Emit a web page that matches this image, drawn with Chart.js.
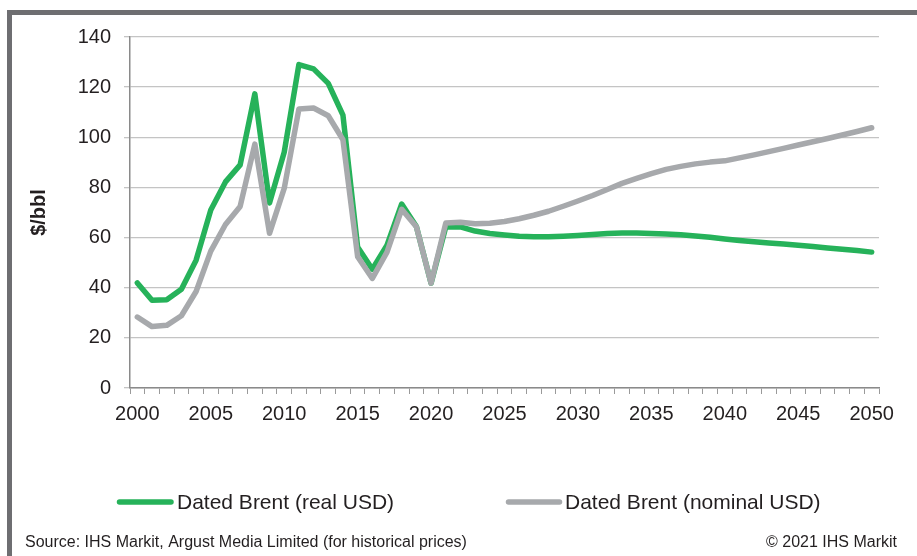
<!DOCTYPE html>
<html>
<head>
<meta charset="utf-8">
<script src="https://cdn.jsdelivr.net/npm/chart.js@4.4.0/dist/chart.umd.min.js"></script>
<style>
    html, body { margin: 0; padding: 0; background: #fff; }
    #wrap { position: relative; width: 917px; height: 556px; }
</style>
</head>
<body>
<div id="wrap"><canvas id="brentChart"></canvas></div>
<script>
// Datos
const years = [
    '2000','2001','2002','2003','2004','2005','2006','2007','2008','2009',
    '2010','2011','2012','2013','2014','2015','2016','2017','2018','2019',
    '2020','2021','2022','2023','2024','2025','2026','2027','2028','2029',
    '2030','2031','2032','2033','2034','2035','2036','2037','2038','2039',
    '2040','2041','2042','2043','2044','2045','2046','2047','2048','2049',
    '2050'
];

const brentReal = [
    41.9, 35.0, 35.2, 39.4, 51.0, 71.0, 82.2, 89.0, 117.3, 73.8,
    94.0, 129.0, 127.3, 121.5, 108.8, 56.2, 47.4, 57.0, 73.4, 64.4,
    41.8, 64.2, 64.3, 62.6, 61.6, 61.0, 60.5, 60.3, 60.3, 60.5,
    60.8, 61.2, 61.6, 61.8, 61.8, 61.6, 61.4, 61.1, 60.6, 60.1,
    59.4, 58.8, 58.3, 57.8, 57.4, 56.9, 56.4, 55.8, 55.3, 54.8,
    54.2
];

const brentNominal = [
    28.3, 24.5, 25.0, 28.8, 38.5, 54.6, 65.2, 72.4, 97.3, 61.7,
    79.6, 111.3, 111.7, 108.6, 99.0, 52.4, 43.7, 54.2, 71.3, 64.3,
    41.8, 65.8, 66.1, 65.5, 65.7, 66.4, 67.5, 68.9, 70.5, 72.5,
    74.6, 76.8, 79.2, 81.6, 83.6, 85.5, 87.2, 88.4, 89.4, 90.1,
    90.6, 91.8, 93.0, 94.3, 95.6, 96.9, 98.2, 99.5, 100.9, 102.3,
    103.8
];

const seriesLabels = ['Dated Brent (real USD)', 'Dated Brent (nominal USD)'];
const yTitle = '$/bbl';
const sourceText = 'Source: IHS Markit, Argust Media Limited (for historical prices)';
const copyrightText = '\u00A9 2021 IHS Markit';

const GREEN = '#26b25a';
const GREY = '#a7a9ac';
const FONT = '"Liberation Sans", Arial, sans-serif';
const TEXT = '#231f20';

// Marco, leyenda y fuente
const decorPlugin = {
    id: 'decor',
    beforeDraw(chart) {
        const ctx = chart.ctx;
        ctx.save();
        ctx.fillStyle = '#6e6e71';
        ctx.fillRect(7, 10, 910, 5);
        ctx.fillRect(7, 10, 5, 546);
        ctx.restore();
    },
    afterDraw(chart) {
        const ctx = chart.ctx;
        const items = [
            { x0: 119.5, x1: 171, tx: 177 },
            { x0: 508.5, x1: 559.5, tx: 565 }
        ];
        ctx.save();
        chart.data.datasets.forEach((ds, i) => {
            const it = items[i];
            ctx.strokeStyle = ds.borderColor;
            ctx.lineWidth = 5.5;
            ctx.lineCap = 'round';
            ctx.beginPath();
            ctx.moveTo(it.x0, 502);
            ctx.lineTo(it.x1, 502);
            ctx.stroke();
            ctx.fillStyle = TEXT;
            ctx.font = '21px ' + FONT;
            ctx.textBaseline = 'alphabetic';
            ctx.textAlign = 'left';
            ctx.fillText(ds.label, it.tx, 508.5);
        });
        ctx.font = '16px ' + FONT;
        ctx.textAlign = 'left';
        ctx.fillText(sourceText, 25, 547);
        ctx.textAlign = 'right';
        ctx.fillText(copyrightText, 897, 547);
        ctx.restore();
    }
};

const ctx = document.getElementById('brentChart');
new Chart(ctx, {
    type: 'line',
    data: {
        labels: years,
        datasets: [
            {
                label: seriesLabels[0],
                data: brentReal,
                borderColor: GREEN,
                backgroundColor: GREEN,
                borderWidth: 5.5,
                borderJoinStyle: 'round',
                borderCapStyle: 'round',
                pointRadius: 0,
                tension: 0,
                order: 2
            },
            {
                label: seriesLabels[1],
                data: brentNominal,
                borderColor: GREY,
                backgroundColor: GREY,
                borderWidth: 5.5,
                borderJoinStyle: 'round',
                borderCapStyle: 'round',
                pointRadius: 0,
                tension: 0,
                order: 1
            }
        ]
    },
    options: {
        responsive: true,
        maintainAspectRatio: false,
        animation: false,
        layout: {
            padding: { top: 37, right: 38, bottom: 128, left: 0 }
        },
        plugins: {
            legend: { display: false },
            tooltip: { enabled: false }
        },
        scales: {
            x: {
                type: 'category',
                offset: true,
                afterFit(scale) { scale.height = 40; },
                grid: {
                    offset: true,
                    drawOnChartArea: false,
                    drawTicks: true,
                    tickLength: 6,
                    tickColor: '#9a9a9a',
                    lineWidth: 1
                },
                border: { color: '#8a8a8a', width: 1.5 },
                ticks: {
                    autoSkip: false,
                    maxRotation: 0,
                    minRotation: 0,
                    padding: 8,
                    color: TEXT,
                    font: { family: FONT, size: 20 },
                    callback(value) {
                        const y = Number(this.getLabelForValue(value));
                        return y % 5 === 0 ? String(y) : '';
                    }
                }
            },
            y: {
                min: 0,
                max: 140,
                afterFit(scale) { scale.width = 130; },
                grid: {
                    color: '#c4c4c4',
                    lineWidth: 1.3,
                    tickLength: 6,
                    tickColor: '#c4c4c4'
                },
                border: { color: '#8a8a8a', width: 1.5 },
                ticks: {
                    stepSize: 20,
                    padding: 13,
                    color: TEXT,
                    font: { family: FONT, size: 20 }
                },
                title: {
                    display: true,
                    text: yTitle,
                    color: TEXT,
                    padding: { top: 27, bottom: 0 },
                    font: { family: FONT, size: 20, weight: 'bold' }
                }
            }
        }
    },
    plugins: [decorPlugin]
});
</script>
</body>
</html>
